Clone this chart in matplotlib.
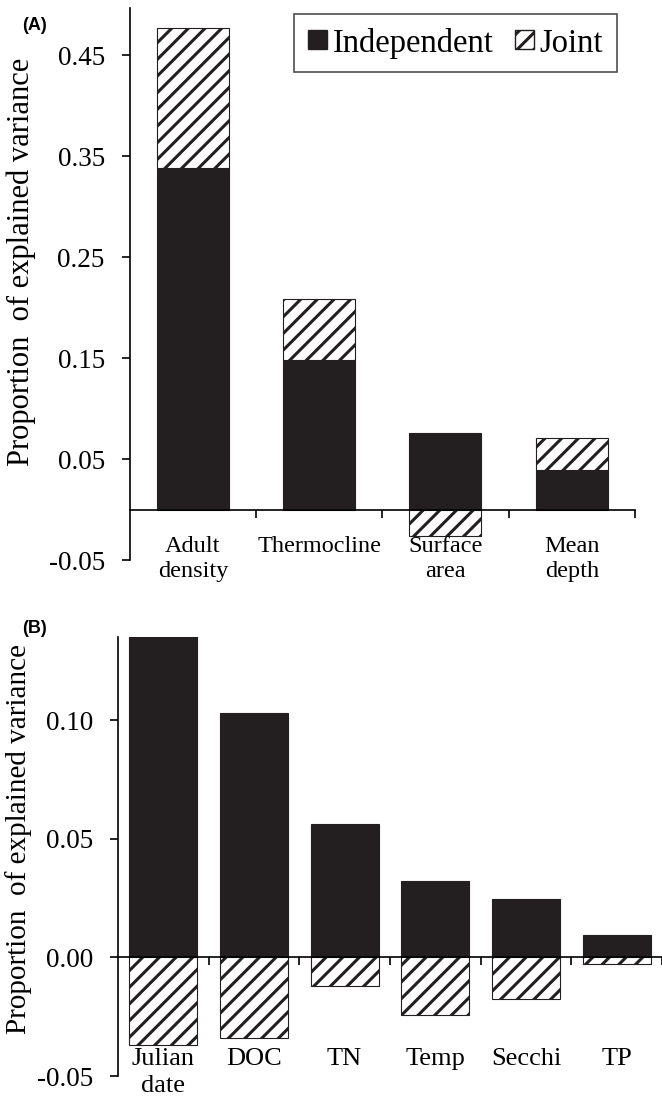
import numpy as np
import matplotlib
matplotlib.use('Agg')
import matplotlib.pyplot as plt
from matplotlib.patches import Patch

# DATA
cats_a = ['Adult\ndensity', 'Thermocline', 'Surface\narea', 'Mean\ndepth']
indep_a = [0.338, 0.148, 0.076, 0.039]
joint_a = [0.139, 0.061, -0.026, 0.032]

cats_b = ['Julian\ndate', 'DOC', 'TN', 'Temp', 'Secchi', 'TP']
indep_b = [0.140, 0.103, 0.056, 0.032, 0.0245, 0.0095]
joint_b = [-0.037, -0.034, -0.012, -0.0245, -0.0175, -0.003]

yticks_a = [-0.05, 0.05, 0.15, 0.25, 0.35, 0.45]
yticks_b = [-0.05, 0.00, 0.05, 0.10]

plt.rcParams['font.family'] = ['Liberation Serif', 'DejaVu Serif']
plt.rcParams['hatch.linewidth'] = 2.2
plt.rcParams['hatch.color'] = '#231f20'
DARK = '#231f20'

fig = plt.figure(figsize=(6.62, 11.05), dpi=100)


def stacked(ax, cats, indep, joint, width, xsize, lsp, ysize):
    x = np.arange(len(cats))
    indep = np.array(indep)
    joint = np.array(joint)
    # joint sits on top of independent when positive, below zero when negative
    base = np.where(joint > 0, indep, 0)
    ax.bar(x, indep, width, color=DARK, edgecolor=DARK, linewidth=0.8,
           label='Independent')
    ax.bar(x, joint, width, bottom=base, color='white', edgecolor=DARK,
           linewidth=0.8, hatch='//', label='Joint')
    ax.set_xlim(-0.5, len(cats) - 0.5)
    ax.spines['top'].set_visible(False)
    ax.spines['right'].set_visible(False)
    ax.spines['bottom'].set_position(('data', 0))
    ax.spines['left'].set_linewidth(1.2)
    ax.spines['bottom'].set_linewidth(1.2)
    ax.set_xticks(x)
    ax.set_xticklabels(cats, fontsize=xsize, linespacing=lsp)
    ax.set_xticks(np.arange(len(cats)) + 0.5, minor=True)
    ax.tick_params(axis='x', which='major', length=0)
    ax.tick_params(axis='x', which='minor', length=6, width=1.2)
    ax.tick_params(axis='y', length=6, width=1.2, labelsize=19.5, pad=12)
    ax.set_ylabel('Proportion  of explained variance', fontsize=ysize)
    return x


# (A)
ax1 = fig.add_axes([0.196, 0.493, 0.763, 0.500])
stacked(ax1, cats_a, indep_a, joint_a, 0.57, 17.5, 1.25, 22)
ax1.set_ylim(-0.05, 0.497)
ax1.set_yticks(yticks_a)
ax1.set_yticklabels(['-0.05', '0.05', '0.15', '0.25', '0.35', '0.45'])
ax1.tick_params(axis='x', which='major', pad=19)
ax1.yaxis.set_label_coords(-0.185, 0.54)
handles = [Patch(facecolor=DARK, edgecolor=DARK),
           Patch(facecolor='white', edgecolor=DARK, hatch='//')]
leg = ax1.legend(handles, ['Independent', 'Joint'], loc='upper right',
                 bbox_to_anchor=(0.964, 0.989), ncol=2, fontsize=23.5,
                 frameon=True, fancybox=False, edgecolor=DARK,
                 handlelength=0.58, handleheight=0.52, handletextpad=0.18,
                 columnspacing=0.65, borderpad=0.42, borderaxespad=0.0)
leg.get_frame().set_linewidth(1.2)
fig.text(0.033, 0.973, '(A)', fontsize=13, fontweight='bold',
         family='Liberation Sans')

# (B)
ax2 = fig.add_axes([0.178, 0.02624, 0.822, 0.3973])
stacked(ax2, cats_b, indep_b, joint_b, 0.75, 19, 1.3, 21)
ax2.set_ylim(-0.05, 0.135)
ax2.set_yticks(yticks_b)
ax2.set_yticklabels(['-0.05', '0.00', '0.05', '0.10'])
ax2.tick_params(axis='x', which='major', pad=65)
ax2.yaxis.set_label_coords(-0.158, 0.54)
fig.text(0.033, 0.427, '(B)', fontsize=13, fontweight='bold',
         family='Liberation Sans')

fig.savefig('out.png', dpi=100)
